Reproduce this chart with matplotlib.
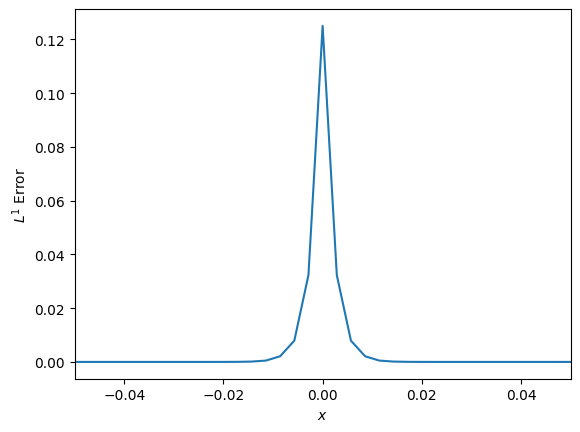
import numpy as np
import matplotlib
matplotlib.use('Agg')
from matplotlib import pyplot as plt

# offsets from the centre node (spacing ~0.00286)
x_right = [0.0, 0.00286, 0.00571, 0.00857, 0.01143, 0.01429, 0.01714, 0.02,
           0.02286, 0.02571, 0.02857, 0.03143, 0.03429, 0.03714, 0.04, 0.04286,
           0.04571, 0.04857, 0.05143]
err_right = [0.125, 0.0323, 0.0079, 0.0021, 0.0005, 0.00013, 0.00003, 0.000008,
             0.000002, 0.0, 0.0, 0.0, 0.0, 0.0, 0.0, 0.0, 0.0, 0.0, 0.0]

x = [-v for v in x_right[:0:-1]] + x_right
err = err_right[:0:-1] + err_right

fig = plt.figure(figsize=(6.4, 4.8))
ax = fig.add_subplot(1, 1, 1)
ax.plot(x, err)
ax.set_xlim(-0.05, 0.05)
ax.set_xlabel('$x$')
ax.set_ylabel('$L^1$ Error')
plt.savefig('out.png', bbox_inches='tight')
